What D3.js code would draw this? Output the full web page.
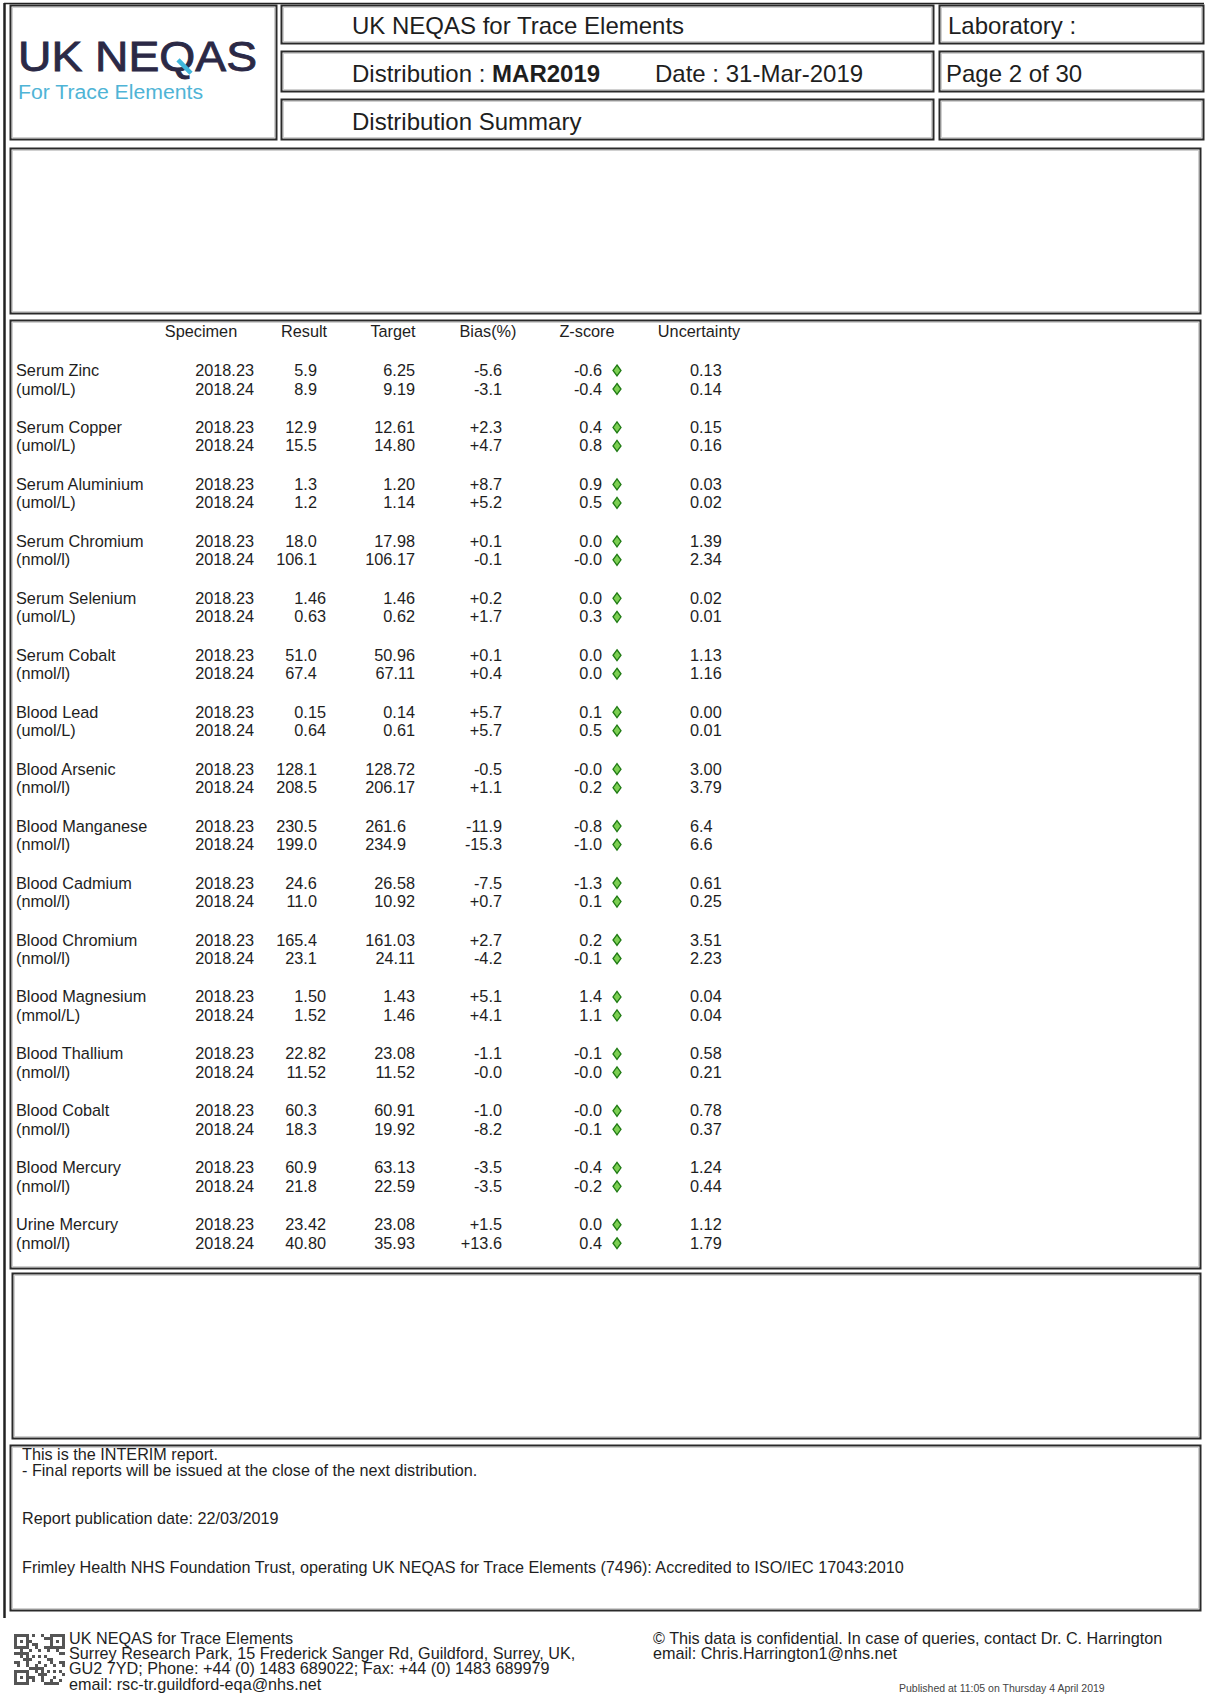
<!DOCTYPE html>
<html><head><meta charset="utf-8">
<script src="https://cdn.jsdelivr.net/npm/d3@7"></script>
<style>
html,body{margin:0;padding:0;background:#fff;}
svg{display:block;}
text{font-family:"Liberation Sans",Arial,sans-serif;fill:#1e1e1e;}
</style></head>
<body>
<script>
// ---------------- data ----------------
const analytes = ["Serum Zinc","Serum Copper","Serum Aluminium","Serum Chromium","Serum Selenium","Serum Cobalt","Blood Lead","Blood Arsenic","Blood Manganese","Blood Cadmium","Blood Chromium","Blood Magnesium","Blood Thallium","Blood Cobalt","Blood Mercury","Urine Mercury"];
const units = ["(umol/L)","(umol/L)","(umol/L)","(nmol/l)","(umol/L)","(nmol/l)","(umol/L)","(nmol/l)","(nmol/l)","(nmol/l)","(nmol/l)","(mmol/L)","(nmol/l)","(nmol/l)","(nmol/l)","(nmol/l)"];
const specimens = ["2018.23","2018.24"];
const columns = ["Specimen","Result","Target","Bias(%)","Z-score","Uncertainty"];
const results = [["5.9","8.9"],["12.9","15.5"],["1.3","1.2"],["18.0","106.1"],["1.46","0.63"],["51.0","67.4"],["0.15","0.64"],["128.1","208.5"],["230.5","199.0"],["24.6","11.0"],["165.4","23.1"],["1.50","1.52"],["22.82","11.52"],["60.3","18.3"],["60.9","21.8"],["23.42","40.80"]];
const targets = [["6.25","9.19"],["12.61","14.80"],["1.20","1.14"],["17.98","106.17"],["1.46","0.62"],["50.96","67.11"],["0.14","0.61"],["128.72","206.17"],["261.6","234.9"],["26.58","10.92"],["161.03","24.11"],["1.43","1.46"],["23.08","11.52"],["60.91","19.92"],["63.13","22.59"],["23.08","35.93"]];
const bias = [["-5.6","-3.1"],["+2.3","+4.7"],["+8.7","+5.2"],["+0.1","-0.1"],["+0.2","+1.7"],["+0.1","+0.4"],["+5.7","+5.7"],["-0.5","+1.1"],["-11.9","-15.3"],["-7.5","+0.7"],["+2.7","-4.2"],["+5.1","+4.1"],["-1.1","-0.0"],["-1.0","-8.2"],["-3.5","-3.5"],["+1.5","+13.6"]];
const zscores = [["-0.6","-0.4"],["0.4","0.8"],["0.9","0.5"],["0.0","-0.0"],["0.0","0.3"],["0.0","0.0"],["0.1","0.5"],["-0.0","0.2"],["-0.8","-1.0"],["-1.3","0.1"],["0.2","-0.1"],["1.4","1.1"],["-0.1","-0.0"],["-0.0","-0.1"],["-0.4","-0.2"],["0.0","0.4"]];
const uncertainty = [["0.13","0.14"],["0.15","0.16"],["0.03","0.02"],["1.39","2.34"],["0.02","0.01"],["1.13","1.16"],["0.00","0.01"],["3.00","3.79"],["6.4","6.6"],["0.61","0.25"],["3.51","2.23"],["0.04","0.04"],["0.58","0.21"],["0.78","0.37"],["1.24","0.44"],["1.12","1.79"]];

const notes = ["This is the INTERIM report.","- Final reports will be issued at the close of the next distribution.","Report publication date: 22/03/2019","Frimley Health NHS Foundation Trust, operating UK NEQAS for Trace Elements (7496): Accredited to ISO/IEC 17043:2010"];
const footerLeft = ["UK NEQAS for Trace Elements","Surrey Research Park, 15 Frederick Sanger Rd, Guildford, Surrey, UK,","GU2 7YD; Phone: +44 (0) 1483 689022; Fax: +44 (0) 1483 689979","email: rsc-tr.guildford-eqa@nhs.net"];
const footerRight = ["\u00A9 This data is confidential. In case of queries, contact Dr. C. Harrington","email: Chris.Harrington1@nhs.net"];

// ---------------- layout ----------------
const W = 1207, H = 1699;
const svg = d3.select("body").append("svg").attr("width", W).attr("height", H);
svg.append("rect").attr("width", W).attr("height", H).attr("fill", "#fff");

const boxes = [
  [10,5,276,139],
  [281,5,933,43],[281,51,933,91],[281,99,933,139],
  [939,5,1203,43],[939,51,1203,91],[939,99,1203,139],
  [10,148,1200,313],
  [10,320,1200,1268],
  [12,1273,1200,1438],
  [10,1445,1200,1610]
];
svg.append("line").attr("x1",4.5).attr("x2",4.5).attr("y1",3).attr("y2",1618).attr("stroke","#222").attr("stroke-width",2.5);
svg.append("line").attr("x1",4).attr("x2",1204).attr("y1",3.5).attr("y2",3.5).attr("stroke","#222").attr("stroke-width",1.5);
svg.selectAll("rect.box").data(boxes).join("rect").attr("class","box")
  .attr("x",d=>d[0]+0.5).attr("y",d=>d[1]+0.5).attr("width",d=>d[2]-d[0]).attr("height",d=>d[3]-d[1])
  .attr("fill","none").attr("stroke","#2a2a2a").attr("stroke-width",2);
svg.selectAll("rect.box2").data(boxes).join("rect").attr("class","box2")
  .attr("x",d=>d[0]+2.5).attr("y",d=>d[1]+2.5).attr("width",d=>d[2]-d[0]-4).attr("height",d=>d[3]-d[1]-4)
  .attr("fill","none").attr("stroke","#d0d0d0").attr("stroke-width",1);

// logo
const logo = svg.append("text").attr("x",18).attr("y",71).attr("textLength",239).attr("lengthAdjust","spacingAndGlyphs")
  .style("font-size","43px").style("fill","#2b2946").style("stroke","#2b2946").style("stroke-width","0.9px").text("UK NEQAS");
try {
  const e = logo.node().getExtentOfChar(5); // the "Q"
  svg.append("line")
    .attr("x1", e.x + e.width*0.52).attr("y1", e.y + e.height*0.58)
    .attr("x2", e.x + e.width*0.88).attr("y2", e.y + e.height*0.86)
    .attr("stroke","#3fb6dc").attr("stroke-width",4.5).attr("stroke-linecap","butt");
} catch(err) {}
svg.append("text").attr("x",18).attr("y",99).attr("textLength",185).attr("lengthAdjust","spacingAndGlyphs")
  .style("font-size","20px").style("fill","#4fb4d6").text("For Trace Elements");

// header texts
const hf = "24px";
svg.append("text").attr("x",352).attr("y",34).style("font-size",hf).text("UK NEQAS for Trace Elements");
const dist = svg.append("text").attr("x",352).attr("y",82).style("font-size",hf);
dist.append("tspan").text("Distribution : ");
dist.append("tspan").style("font-weight","bold").text("MAR2019");
svg.append("text").attr("x",655).attr("y",82).style("font-size",hf).text("Date : 31-Mar-2019");
svg.append("text").attr("x",352).attr("y",130).style("font-size",hf).text("Distribution Summary");
svg.append("text").attr("x",948).attr("y",34).style("font-size",hf).text("Laboratory :");
svg.append("text").attr("x",946).attr("y",82).style("font-size",hf).text("Page 2 of 30");

// ---------------- table ----------------
const tf = "16.3px";
const colX = d3.scaleOrdinal().domain(columns).range([201,304,393,488,587,699]); // header centres
const valX = d3.scaleOrdinal().domain(columns).range([254,326,415,502,602,690]);
const valAnchor = d3.scaleOrdinal().domain(columns).range(["end","end","end","end","end","start"]);
const decimalAligned = new Set(["Result","Target"]);
const y = d3.scaleBand().domain(analytes).range([363.5, 363.5 + 16*56.95]).paddingInner(0);
const lineY = d3.scalePoint().domain(specimens).range([12.5, 31]);
const diamondX = 617;

const probe = svg.append("text").style("font-size",tf).text("0");
const digitW = probe.node().getComputedTextLength();
probe.remove();
const decShift = s => { const p = s.indexOf("."); const d = p < 0 ? 0 : s.length - p - 1; return (2 - d) * digitW; };

svg.selectAll("text.colhead").data(columns).join("text").attr("class","colhead")
  .attr("x",d=>colX(d)).attr("y",337).attr("text-anchor","middle").style("font-size",tf).text(d=>d);

const groups = svg.selectAll("g.grp").data(analytes).join("g").attr("class","grp")
  .attr("transform",d=>`translate(0,${y(d)})`);
groups.append("text").attr("x",16).attr("y",lineY(specimens[0])).style("font-size",tf).text(d=>d);
groups.append("text").attr("x",16).attr("y",lineY(specimens[1])).style("font-size",tf).text((d,i)=>units[i]);

const colData = {"Result":results,"Target":targets,"Bias(%)":bias,"Z-score":zscores,"Uncertainty":uncertainty};
groups.each(function(a,i){
  const g = d3.select(this);
  specimens.forEach((s,j)=>{
    const yy = lineY(s);
    g.append("text").attr("x",valX("Specimen")).attr("y",yy).attr("text-anchor",valAnchor("Specimen")).style("font-size",tf).text(s);
    Object.keys(colData).forEach(c=>{
      const v = colData[c][i][j];
      const x = decimalAligned.has(c) ? valX(c) - decShift(v) : valX(c);
      g.append("text").attr("x",x).attr("y",yy).attr("text-anchor",valAnchor(c)).style("font-size",tf).text(v);
    });
    g.append("path").attr("d","M0,-5.5L4,0L0,5.5L-4,0Z")
      .attr("transform",`translate(${diamondX},${yy-5.5})`)
      .attr("fill","#7ccf52").attr("stroke","#1f7a14").attr("stroke-width",1.3);
  });
});

// ---------------- notes ----------------
const noteY = [1460,1476,1524,1573];
svg.selectAll("text.note").data(notes).join("text").attr("class","note")
  .attr("x",22).attr("y",(d,i)=>noteY[i]).style("font-size","16.2px").text(d=>d);

// ---------------- footer ----------------
const qr = svg.append("g").attr("transform","translate(14,1634)");
const n = 17, cs = 3;
for(let r=0;r<n;r++) for(let c=0;c<n;c++){
  const finder = (r<5&&c<5)||(r<5&&c>n-6)||(r>n-6&&c<5);
  let on;
  if(finder){ const rr = r<5?r:r-(n-5), cc = c<5?c:c-(n-5); on = (rr===0||rr===4||cc===0||cc===4)||(rr===2&&cc===2); }
  else on = ((r*7 + c*11 + (r*c)%5) % 3) === 0;
  if(on) qr.append("rect").attr("x",c*cs).attr("y",r*cs).attr("width",cs).attr("height",cs).attr("fill","#555");
}
svg.selectAll("text.fl").data(footerLeft).join("text").attr("class","fl")
  .attr("x",69).attr("y",(d,i)=>1644+i*15.2).style("font-size","16.2px").text(d=>d);
svg.selectAll("text.fr").data(footerRight).join("text").attr("class","fr")
  .attr("x",653).attr("y",(d,i)=>1644+i*15.2).style("font-size","16.2px").text(d=>d);
svg.append("text").attr("x",899).attr("y",1692).style("font-size","10.5px").style("fill","#444")
  .text("Published at 11:05 on Thursday 4 April 2019");
</script>
</body></html>
